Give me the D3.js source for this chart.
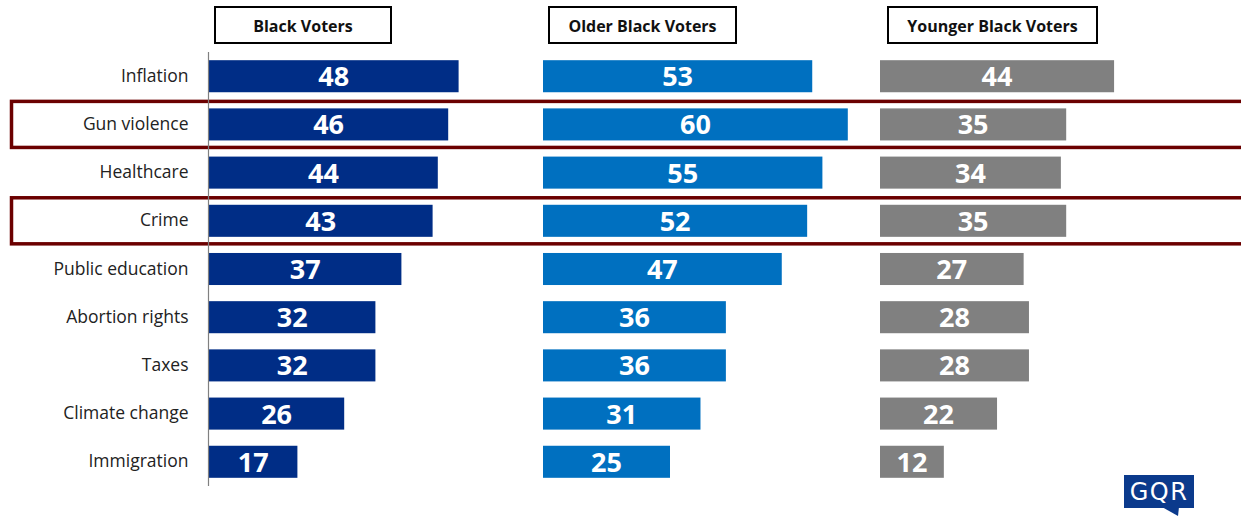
<!DOCTYPE html>
<html><head><meta charset="utf-8">
<script src="https://cdn.jsdelivr.net/npm/d3@7"></script>
<style>body{margin:0;background:#fff;}svg{display:block;}</style>
</head><body>
<svg id="c" width="1241" height="516"></svg>
<script>
const categories = ["Inflation","Gun violence","Healthcare","Crime","Public education","Abortion rights","Taxes","Climate change","Immigration"];
const blackVoters = [48,46,44,43,37,32,32,26,17];
const olderBlackVoters = [53,60,55,52,47,36,36,31,25];
const youngerBlackVoters = [44,35,34,35,27,28,28,22,12];
const panelTitles = ["Black Voters","Older Black Voters","Younger Black Voters"];
const highlighted = ["Gun violence","Crime"];

const svg = d3.select("#c");
const font = "'Open Sans', 'Liberation Sans', Arial, sans-serif";
const y = d3.scaleBand().domain(categories).range([52, 486]).paddingInner(0.335).paddingOuter(0.17);

const panels = [
  {title: panelTitles[0], data: blackVoters, x0: 209, pxPerUnit: 5.2, color: "#002D86", box:[215,7,176,36]},
  {title: panelTitles[1], data: olderBlackVoters, x0: 543, pxPerUnit: 5.08, color: "#0070C0", box:[549,7,187,36]},
  {title: panelTitles[2], data: youngerBlackVoters, x0: 880, pxPerUnit: 5.32, color: "#808080", box:[888,7,209,36]}
];

// highlight boxes
highlighted.forEach(c => {
  svg.append("rect").attr("x", 11.5).attr("y", y(c) - 7).attr("width", 1240).attr("height", y.bandwidth() + 14)
    .attr("fill", "none").attr("stroke", "#6B0000").attr("stroke-width", 3.5);
});

panels.forEach(p => {
  const x = d3.scaleLinear().domain([0, 100]).range([p.x0, p.x0 + 100 * p.pxPerUnit]);
  const g = svg.append("g");
  g.selectAll("rect.bar").data(p.data).join("rect").attr("class","bar")
    .attr("x", x(0)).attr("y", (d,i) => y(categories[i]))
    .attr("width", d => x(d) - x(0)).attr("height", y.bandwidth())
    .attr("fill", p.color);
  g.selectAll("text.val").data(p.data).join("text").attr("class","val")
    .attr("x", d => (x(0) + x(d)) / 2).attr("y", (d,i) => y(categories[i]) + y.bandwidth()/2 - 0.5)
    .attr("text-anchor","middle").attr("dominant-baseline","central")
    .attr("fill","#fff").attr("font-family", font).attr("font-weight","bold").attr("font-size", 27)
    .text(d => d);
  const [bx,by,bw,bh] = p.box;
  svg.append("rect").attr("x",bx).attr("y",by).attr("width",bw).attr("height",bh)
    .attr("fill","#fff").attr("stroke","#000").attr("stroke-width",2);
  svg.append("text").attr("x", bx + bw/2).attr("y", by + bh/2 + 0.5)
    .attr("text-anchor","middle").attr("dominant-baseline","central")
    .attr("font-family", font).attr("font-weight","bold").attr("font-size",16).attr("fill","#111")
    .text(p.title);
});

// axis
const axis = svg.append("g").attr("transform","translate(208.5,0)").call(d3.axisLeft(y).tickSize(0).tickPadding(20));
axis.select(".domain").attr("stroke","#808080").attr("stroke-width",1.2).attr("d","M0,52V486");
axis.selectAll("text").attr("font-family", font).attr("font-size",17.5).attr("fill","#222");

// logo
const logo = svg.append("g");
logo.append("rect").attr("x",1124).attr("y",475).attr("width",70).attr("height",33).attr("fill","#0B3A8C");
logo.append("path").attr("d","M1162,507 L1179,507 L1178,516 Z").attr("fill","#0B3A8C");
logo.append("text").attr("x",1159).attr("y",492).attr("text-anchor","middle").attr("dominant-baseline","central")
  .attr("font-family","'DejaVu Sans', sans-serif").attr("font-size",24).attr("fill","#fff").attr("letter-spacing",1.5).text("GQR");
</script>
</body></html>
